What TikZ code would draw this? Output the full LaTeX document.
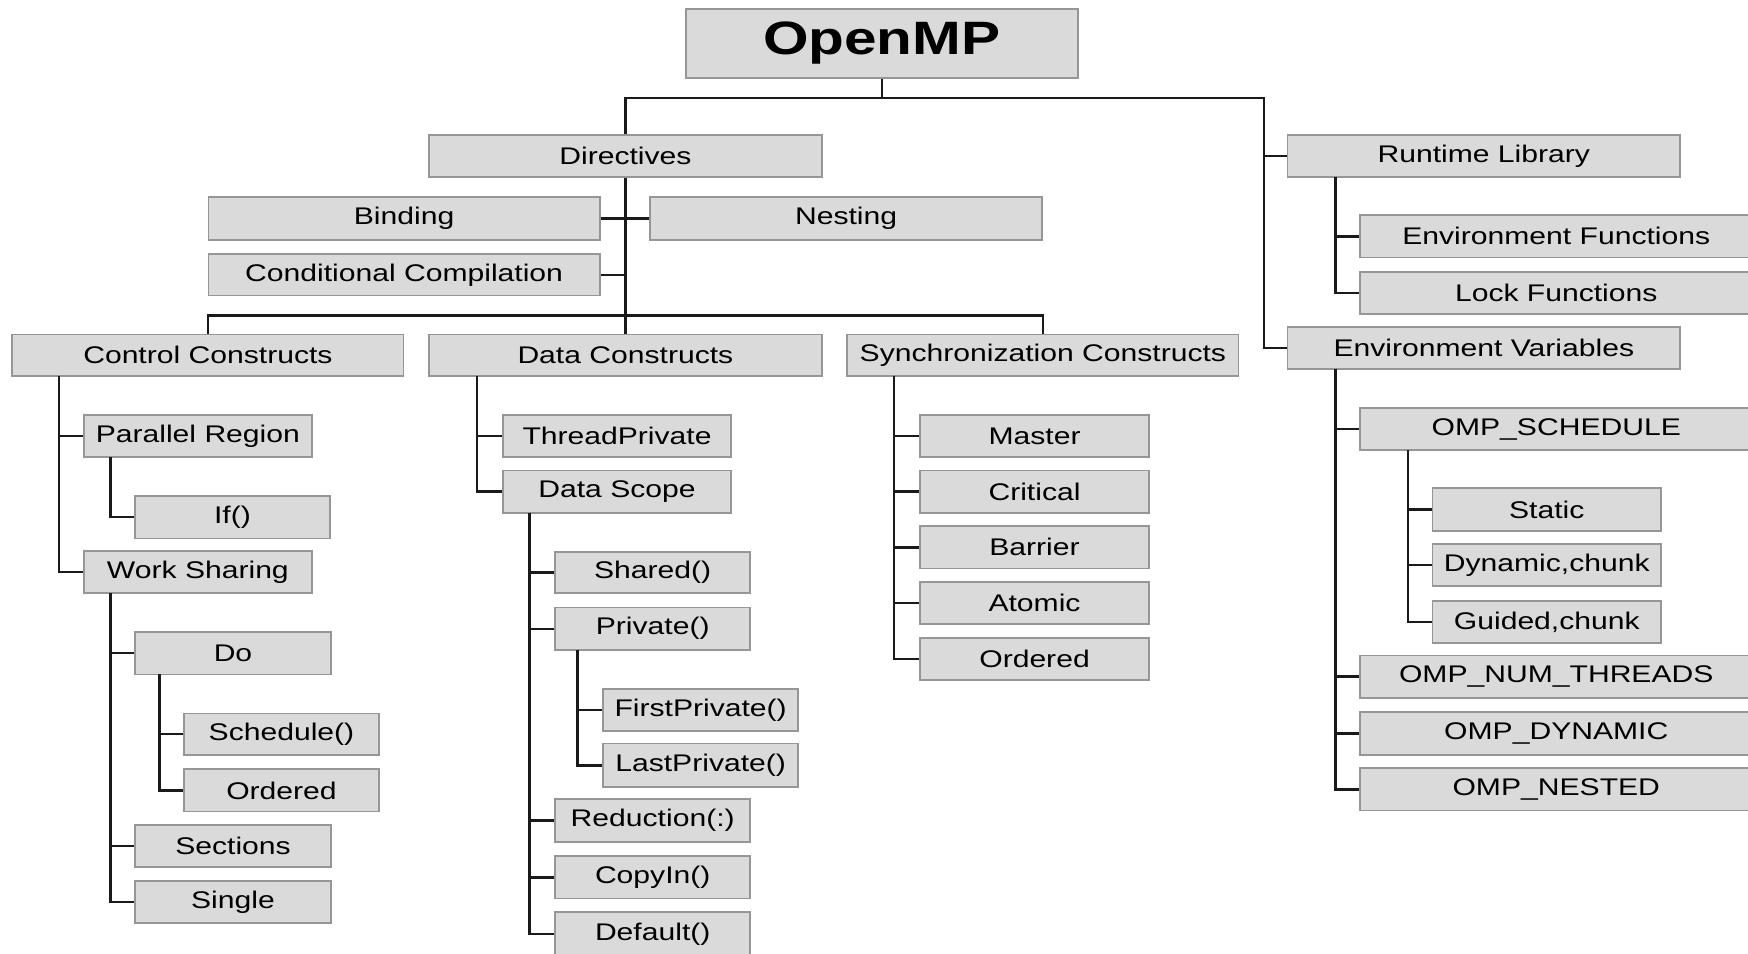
\documentclass[tikz,border=0pt]{standalone}
\usepackage{fontspec}
\setmainfont{Liberation Sans}
\usepackage{graphicx}
\definecolor{boxfill}{HTML}{DADADA}
\definecolor{boxline}{HTML}{969696}
\definecolor{conncol}{HTML}{1A1A1A}
\newcommand\sx[1]{\scalebox{1.25}[1]{#1}}
\tikzset{
  box/.style={draw=boxline, fill=boxfill, line width=0.8pt, inner sep=0pt,
    font=\fontsize{10.8}{12}\selectfont},
  titlebox/.style={box, font=\fontsize{21}{24}\selectfont\bfseries},
  conn/.style={draw=conncol, line width=1.1pt},
}
\newcommand\mybox[7][box]{\node[#1, minimum width={(#5-#3)*0.5pt}, minimum height={(#6-#4)*0.5pt}] (#2) at ({(#3+#5)/2},{(#4+#6)/2}) {\sx{#7}};}
\begin{document}
\begin{tikzpicture}[x=0.5pt,y=-0.5pt]
\useasboundingbox (0,0) rectangle (1568,855);
% top
\mybox[titlebox]{omp}{615}{8}{967}{70}{OpenMP}
\mybox{dir}{385}{121}{737}{159}{Directives}
\mybox{bind}{187}{177}{538}{215}{Binding}
\mybox{nest}{583}{177}{935}{215}{Nesting}
\mybox{cond}{187}{228}{538}{265}{Conditional Compilation}
\mybox{cc}{11}{300}{362}{337}{Control Constructs}
\mybox{dc}{385}{300}{737}{337}{Data Constructs}
\mybox{sc}{760}{300}{1111}{337}{Synchronization Constructs}
\mybox{rt}{1155}{121}{1507}{159}{Runtime Library}
\mybox{envf}{1220}{193}{1572}{231}{Environment Functions}
\mybox{lockf}{1220}{244}{1572}{282}{Lock Functions}
\mybox{ev}{1155}{293}{1507}{331}{Environment Variables}
\mybox{sched}{1220}{366}{1572}{404}{OMP\_SCHEDULE}
\mybox{static}{1285}{438}{1490}{476}{Static}
\mybox{dyn}{1285}{488}{1490}{526}{Dynamic,chunk}
\mybox{guid}{1285}{539}{1490}{577}{Guided,chunk}
\mybox{numth}{1220}{588}{1572}{626}{OMP\_NUM\_THREADS}
\mybox{ompdyn}{1220}{639}{1572}{677}{OMP\_DYNAMIC}
\mybox{nested}{1220}{689}{1572}{727}{OMP\_NESTED}
% control column
\mybox{pr}{75}{372}{280}{410}{Parallel Region}
\mybox{if}{121}{445}{296}{483}{If()}
\mybox{ws}{75}{494}{280}{532}{Work Sharing}
\mybox{do}{121}{567}{297}{605}{Do}
\mybox{schedc}{165}{640}{340}{677}{Schedule()}
\mybox{ordc}{165}{690}{340}{728}{Ordered}
\mybox{sect}{121}{740}{297}{778}{Sections}
\mybox{single}{121}{790}{297}{828}{Single}
% data column
\mybox{tp}{451}{372}{656}{410}{ThreadPrivate}
\mybox{ds}{451}{422}{656}{460}{Data Scope}
\mybox{shared}{498}{495}{673}{532}{Shared()}
\mybox{priv}{498}{545}{673}{583}{Private()}
\mybox{fpriv}{541}{618}{716}{656}{FirstPrivate()}
\mybox{lpriv}{541}{667}{716}{706}{LastPrivate()}
\mybox{red}{498}{717}{673}{755}{Reduction(:)}
\mybox{copyin}{498}{768}{673}{806}{CopyIn()}
\mybox{default}{498}{818}{673}{858}{Default()}
% sync column
\mybox{master}{825}{372}{1031}{410}{Master}
\mybox{crit}{825}{422}{1031}{460}{Critical}
\mybox{barrier}{825}{472}{1031}{510}{Barrier}
\mybox{atomic}{825}{522}{1031}{560}{Atomic}
\mybox{ords}{825}{572}{1031}{610}{Ordered}
% junction coordinates
\coordinate (jl) at (561,88);
\coordinate (jr) at (1134,88);
\coordinate (b2) at (561,283);
\coordinate (ccs) at (53,337);
\coordinate (prs) at (99,410);
\coordinate (wss) at (99,532);
\coordinate (dos) at (143,605);
\coordinate (dcs) at (428,337);
\coordinate (dss) at (475,460);
\coordinate (pvs) at (518,583);
\coordinate (scs) at (802,337);
\coordinate (rts) at (1198,159);
\coordinate (evs) at (1198,331);
\coordinate (shs) at (1263,404);
% connectors
\draw[conn] (omp.south) |- (jl) -- (dir.north);
\draw[conn] (omp.south) |- (jr) |- (ev.west);
\draw[conn] (rt.west) -- (rt.west -| jr);
\draw[conn] (dir.south) -- (dc.north);
\draw[conn] (bind.east) -- (nest.west);
\draw[conn] (cond.east) -- (cond.east -| dir.south);
\draw[conn] (cc.north) |- (b2) -| (sc.north);
\foreach \c in {pr,ws} \draw[conn] (ccs) |- (\c.west);
\draw[conn] (prs) |- (if.west);
\foreach \c in {do,sect,single} \draw[conn] (wss) |- (\c.west);
\foreach \c in {schedc,ordc} \draw[conn] (dos) |- (\c.west);
\foreach \c in {tp,ds} \draw[conn] (dcs) |- (\c.west);
\foreach \c in {shared,priv,red,copyin,default} \draw[conn] (dss) |- (\c.west);
\foreach \c in {fpriv,lpriv} \draw[conn] (pvs) |- (\c.west);
\foreach \c in {master,crit,barrier,atomic,ords} \draw[conn] (scs) |- (\c.west);
\foreach \c in {envf,lockf} \draw[conn] (rts) |- (\c.west);
\foreach \c in {sched,numth,ompdyn,nested} \draw[conn] (evs) |- (\c.west);
\foreach \c in {static,dyn,guid} \draw[conn] (shs) |- (\c.west);
\end{tikzpicture}
\end{document}
